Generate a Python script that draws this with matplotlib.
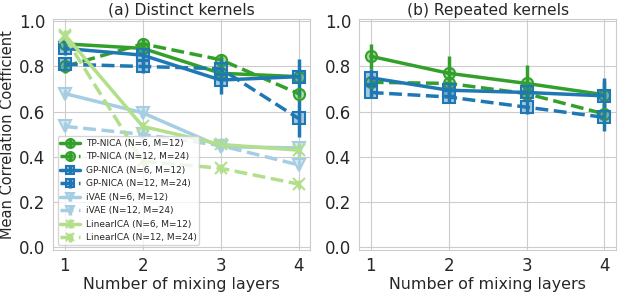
import numpy as np
import matplotlib.pyplot as plt
import seaborn as sns

sns.set_style('whitegrid')
plt.rcParams['font.family'] = ['DejaVu Sans']

layers = [1, 2, 3, 4]

# (a) distinct kernels
tp6_a = [0.90, 0.88, 0.77, 0.755]
tp6_a_err = [0.02, 0.02, 0.02, 0.02]
tp12_a = [0.80, 0.90, 0.83, 0.68]
tp12_a_err = [0.03, 0.02, 0.02, 0.02]
gp6_a = [0.88, 0.85, 0.74, 0.755]
gp6_a_err = [0.03, 0.04, 0.06, 0.08]
gp12_a = [0.81, 0.80, 0.79, 0.57]
gp12_a_err = [0.03, 0.03, 0.05, 0.08]
ivae6_a = [0.68, 0.595, 0.445, 0.44]
ivae6_a_err = [0.02, 0.02, 0.02, 0.02]
ivae12_a = [0.535, 0.50, 0.45, 0.365]
ivae12_a_err = [0.02, 0.02, 0.02, 0.02]
lin6_a = [0.94, 0.535, 0.455, 0.43]
lin6_a_err = [0.02, 0.02, 0.03, 0.03]
lin12_a = [0.93, 0.38, 0.35, 0.28]
lin12_a_err = [0.02, 0.02, 0.02, 0.02]

# (b) repeated kernels
tp6_b = [0.845, 0.77, 0.725, 0.675]
tp6_b_err = [0.055, 0.075, 0.08, 0.06]
tp12_b = [0.73, 0.725, 0.68, 0.59]
tp12_b_err = [0.02, 0.02, 0.02, 0.02]
gp6_b = [0.75, 0.695, 0.685, 0.67]
gp6_b_err = [0.04, 0.03, 0.03, 0.08]
gp12_b = [0.685, 0.665, 0.62, 0.575]
gp12_b_err = [0.02, 0.02, 0.03, 0.06]

green = '#33a02c'
blue = '#1f78b4'
lblue = '#a6cee3'
lgreen = '#b2df8a'

fig, axes = plt.subplots(1, 2, figsize=(6.18, 2.92), dpi=100)

def series(ax, y, err, color, marker, ls, label):
    ax.errorbar(layers, y, yerr=err, color=color, marker=marker, ls=ls,
                lw=2.5, elinewidth=2.5, markersize=8,
                mfc=color + '66', mec=color, mew=1.5, label=label)

ax = axes[0]
series(ax, tp6_a, tp6_a_err, green, 'o', '-', 'TP-NICA (N=6, M=12)')
series(ax, tp12_a, tp12_a_err, green, 'o', '--', 'TP-NICA (N=12, M=24)')
series(ax, gp6_a, gp6_a_err, blue, 's', '-', 'GP-NICA (N=6, M=12)')
series(ax, gp12_a, gp12_a_err, blue, 's', '--', 'GP-NICA (N=12, M=24)')
series(ax, ivae6_a, ivae6_a_err, lblue, 'v', '-', 'iVAE (N=6, M=12)')
series(ax, ivae12_a, ivae12_a_err, lblue, 'v', '--', 'iVAE (N=12, M=24)')
series(ax, lin6_a, lin6_a_err, lgreen, 'x', '-', 'LinearICA (N=6, M=12)')
series(ax, lin12_a, lin12_a_err, lgreen, 'x', '--', 'LinearICA (N=12, M=24)')
ax.set_title('(a) Distinct kernels', fontsize=11.2, pad=3)
ax.set_ylabel('Mean Correlation Coefficient', fontsize=10.5, labelpad=3)
ax.legend(loc='lower left', fontsize=6.5, framealpha=0.8, markerscale=0.8,
          borderpad=0.3, labelspacing=0.5, handlelength=2.2,
          handletextpad=0.6, borderaxespad=0.5)

ax = axes[1]
series(ax, tp6_b, tp6_b_err, green, 'o', '-', 'TP-NICA (N=6, M=12)')
series(ax, tp12_b, tp12_b_err, green, 'o', '--', 'TP-NICA (N=12, M=24)')
series(ax, gp6_b, gp6_b_err, blue, 's', '-', 'GP-NICA (N=6, M=12)')
series(ax, gp12_b, gp12_b_err, blue, 's', '--', 'GP-NICA (N=12, M=24)')
ax.set_title('(b) Repeated kernels', fontsize=11.2, pad=3)

for ax in axes:
    ax.set_xlim(0.85, 4.15)
    ax.set_ylim(-0.01, 1.01)
    ax.set_xticks(layers)
    ax.set_yticks([0.0, 0.2, 0.4, 0.6, 0.8, 1.0])
    ax.tick_params(labelsize=12, pad=2)
    ax.set_xlabel('Number of mixing layers', fontsize=11.4, labelpad=1)

fig.subplots_adjust(left=0.086, right=0.997, bottom=0.145, top=0.935, wspace=0.19)
fig.savefig('out.png')
